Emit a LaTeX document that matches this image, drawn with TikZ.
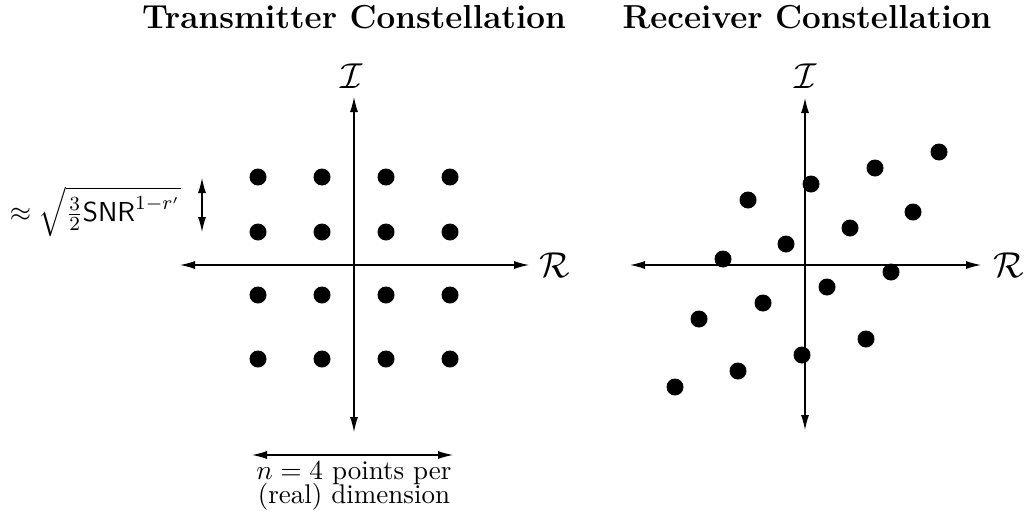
\documentclass[tikz,border=0pt]{standalone}
\usepackage{amsmath}
\usetikzlibrary{arrows.meta}
\begin{document}
\begin{tikzpicture}[x=0.4pt,y=-0.4pt,
  dot/.style={circle,fill=black,inner sep=0pt,minimum size=6.8pt},
  axis/.style={line width=0.45pt,{Latex[length=6pt,width=3.2pt]}-{Latex[length=6pt,width=3.2pt]}},
  title/.style={font=\fontsize{13.3}{16}\selectfont\bfseries,anchor=base,inner sep=0pt},
  axlabel/.style={font=\fontsize{14}{16}\selectfont,inner sep=0pt},
  txt/.style={font=\fontsize{10.8}{13}\selectfont,inner sep=0pt}]
\useasboundingbox (0,0) rectangle (1025,520);
% titles
\node[title] (t1) at (354,28) {Transmitter Constellation};
\node[title] (t2) at (807,28) {Receiver Constellation};
% left axes
\coordinate (lt) at (354,97);
\coordinate (lb) at (354,432);
\coordinate (ll) at (180,265);
\coordinate (lr) at (529,265);
\draw[axis] (lb) -- (lt);
\draw[axis] (ll) -- (lr);
\node[axlabel] (li) at (352,76) {$\mathcal{I}$};
\node[axlabel] (lR) at (555,265) {$\mathcal{R}$};
% left dots
\foreach \i/\x in {1/258,2/322,3/386,4/450}{
  \foreach \j/\y in {1/177,2/232,3/295,4/359}{
    \node[dot] (d\i\j) at (\x,\y) {};
  }
}
% spacing arrow
\coordinate (sa) at (202,178);
\coordinate (sb) at (202,232);
\draw[axis] (sa) -- (sb);
\node[txt,anchor=base east] (sl) at (181,221) {$\approx\sqrt{\tfrac{3}{2}\mathsf{SNR}^{1-r'}}$};
% bottom arrow
\coordinate (ba) at (252,455);
\coordinate (bb) at (453,455);
\draw[axis] (ba) -- (bb);
\node[txt,anchor=base] (bl1) at (354,479) {$n=4$ points per};
\node[txt,anchor=base] (bl2) at (354,503) {(real) dimension};
% right axes
\coordinate (rt) at (805,98);
\coordinate (rb) at (805,430);
\coordinate (rl) at (630,265);
\coordinate (rr) at (981,265);
\draw[axis] (rb) -- (rt);
\draw[axis] (rl) -- (rr);
\node[axlabel] (ri) at (806,76) {$\mathcal{I}$};
\node[axlabel] (rR) at (1009,265) {$\mathcal{R}$};
% right dots
\foreach \n/\x/\y in {1/939/152,2/875/168,3/811/184,4/748/200,5/913/212,6/850/228,7/786/244,8/723/259,9/891/272,10/827/287,11/763/303,12/699/319,13/866/339,14/802/355,15/738/371,16/675/387}{
  \node[dot] (r\n) at (\x,\y) {};
}
\end{tikzpicture}
\end{document}
